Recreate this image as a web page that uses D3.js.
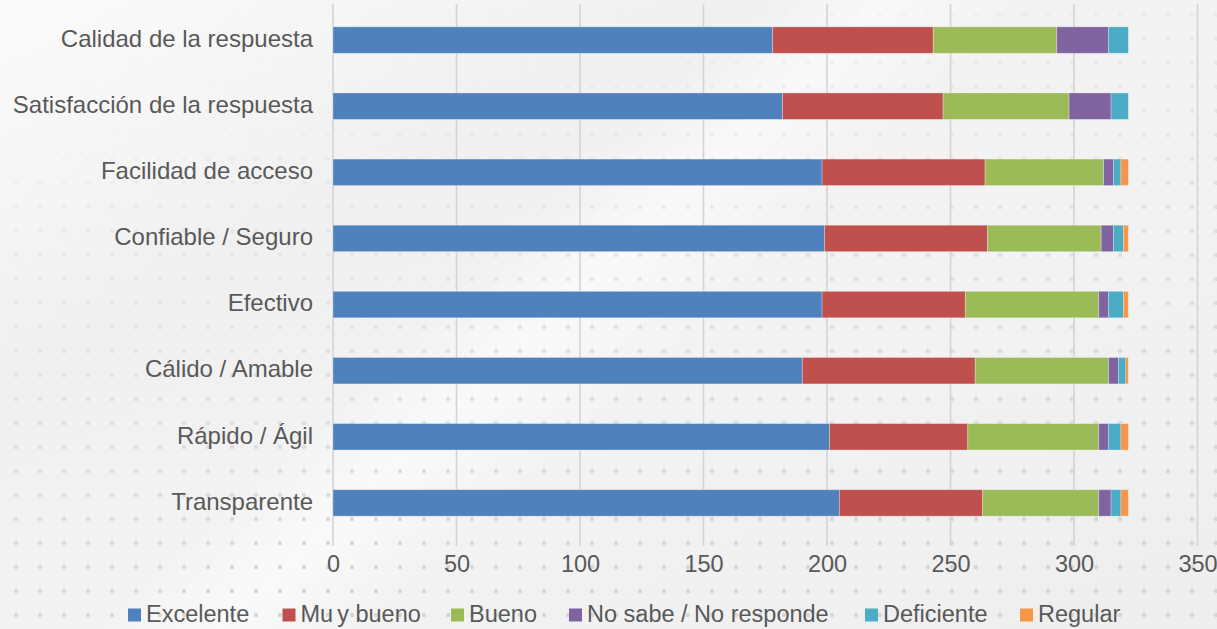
<!DOCTYPE html>
<html>
<head>
<meta charset="utf-8">
<script src="https://cdn.jsdelivr.net/npm/d3@7"></script>
<style>
  html, body { margin: 0; padding: 0; background: #efefef; }
  svg { display: block; font-family: "Liberation Sans", Arial, sans-serif; }
</style>
</head>
<body>
<svg id="chart" width="1217" height="629"></svg>
<script>
// Survey ratings per attribute (number of responses)
const categories = [
  "Calidad de la respuesta",
  "Satisfacción de la respuesta",
  "Facilidad de acceso",
  "Confiable / Seguro",
  "Efectivo",
  "Cálido / Amable",
  "Rápido / Ágil",
  "Transparente"
];
const seriesNames = ["Excelente", "Muy bueno", "Bueno", "No sabe / No responde", "Deficiente", "Regular"];
const excelente  = [178, 182, 198, 199, 198, 190, 201, 205];
const muyBueno   = [ 65,  65,  66,  66,  58,  70,  56,  58];
const bueno      = [ 50,  51,  48,  46,  54,  54,  53,  47];
const noSabe     = [ 21,  17,   4,   5,   4,   4,   4,   5];
const deficiente = [  8,   7,   3,   4,   6,   3,   5,   4];
const regular    = [  0,   0,   3,   2,   2,   1,   3,   3];
const xTicks = [0, 50, 100, 150, 200, 250, 300, 350];
const colors = ["#4F81BD", "#C0504D", "#9BBB59", "#8064A2", "#4BACC6", "#F79646"];

const seriesValues = [excelente, muyBueno, bueno, noSabe, deficiente, regular];
const rows = categories.map((c, i) => {
  const r = { category: c };
  seriesNames.forEach((s, k) => { r[s] = seriesValues[k][i]; });
  return r;
});

const W = 1217, H = 629;
const svg = d3.select("#chart");
const defs = svg.append("defs");

// Background: soft grey with a light diagonal sheen and a faint dot grid
const bg = defs.append("linearGradient").attr("id", "bgGrad")
  .attr("x1", "0").attr("y1", "0").attr("x2", "1").attr("y2", "1");
bg.append("stop").attr("offset", "0%").attr("stop-color", "#fbfbfb");
bg.append("stop").attr("offset", "30%").attr("stop-color", "#f0f0f0");
bg.append("stop").attr("offset", "55%").attr("stop-color", "#f3f3f3");
bg.append("stop").attr("offset", "100%").attr("stop-color", "#eeeeee");
svg.append("rect").attr("width", W).attr("height", H).attr("fill", "url(#bgGrad)");

const streak = defs.append("linearGradient").attr("id", "streak")
  .attr("x1", "0").attr("y1", "0").attr("x2", "1").attr("y2", "0.55");
streak.append("stop").attr("offset", "0%").attr("stop-color", "#ffffff").attr("stop-opacity", 0);
streak.append("stop").attr("offset", "48%").attr("stop-color", "#ffffff").attr("stop-opacity", 0);
streak.append("stop").attr("offset", "56%").attr("stop-color", "#ffffff").attr("stop-opacity", 0.55);
streak.append("stop").attr("offset", "66%").attr("stop-color", "#ffffff").attr("stop-opacity", 0);
streak.append("stop").attr("offset", "100%").attr("stop-color", "#ffffff").attr("stop-opacity", 0);
svg.append("rect").attr("width", W).attr("height", H).attr("fill", "url(#streak)");

const dots = defs.append("pattern").attr("id", "dots")
  .attr("patternUnits", "userSpaceOnUse").attr("width", 24).attr("height", 24)
  .attr("x", 4).attr("y", 3);
dots.append("circle").attr("cx", 12).attr("cy", 12).attr("r", 2.2).attr("fill", "#d2d2d2");

const fade = defs.append("linearGradient").attr("id", "dotFade")
  .attr("x1", "0").attr("y1", "0").attr("x2", "0.35").attr("y2", "1");
fade.append("stop").attr("offset", "0%").attr("stop-color", "#fff").attr("stop-opacity", 0);
fade.append("stop").attr("offset", "25%").attr("stop-color", "#fff").attr("stop-opacity", 0.15);
fade.append("stop").attr("offset", "60%").attr("stop-color", "#fff").attr("stop-opacity", 0.6);
fade.append("stop").attr("offset", "100%").attr("stop-color", "#fff").attr("stop-opacity", 0.9);
const mask = defs.append("mask").attr("id", "dotMask");
mask.append("rect").attr("width", W).attr("height", H).attr("fill", "url(#dotFade)");
svg.append("rect").attr("width", W).attr("height", H)
  .attr("fill", "url(#dots)").attr("mask", "url(#dotMask)");

// Plot geometry
const plotLeft = 333, plotRight = 1197.5, plotTop = 7, plotBottom = 536;

const x = d3.scaleLinear().domain([0, 350]).range([plotLeft, plotRight]);
const y = d3.scaleBand().domain(categories).range([plotTop, plotBottom])
  .paddingInner(0.6).paddingOuter(0.3);

// Vertical gridlines
svg.append("g")
  .selectAll("line").data(xTicks).join("line")
  .attr("x1", d => x(d)).attr("x2", d => x(d))
  .attr("y1", 4).attr("y2", 546)
  .attr("stroke", "#d4d4d4").attr("stroke-width", 1.6);

// Stacked bars
const stack = d3.stack().keys(seriesNames);
const layers = stack(rows);
svg.append("g").selectAll("g").data(layers).join("g")
  .attr("fill", (d, i) => colors[i])
  .selectAll("rect").data(d => d.filter(p => p[1] - p[0] > 0)).join("rect")
  .attr("x", d => x(d[0]))
  .attr("width", d => x(d[1]) - x(d[0]))
  .attr("y", d => y(d.data.category))
  .attr("height", y.bandwidth())
  .attr("stroke", "#ffffff").attr("stroke-opacity", 0.35).attr("stroke-width", 0.8);

// X axis tick labels
const xAxis = d3.axisBottom(x).tickValues(xTicks).tickSize(0).tickPadding(0);
const gx = svg.append("g").attr("transform", `translate(0,${572})`).call(xAxis);
gx.select(".domain").remove();
gx.selectAll("text").attr("font-size", 23.5).attr("fill", "#595959")
  .attr("font-family", "Liberation Sans, Arial, sans-serif").attr("y", 0).attr("dy", 0);

// Category labels
const yAxis = d3.axisLeft(y).tickSize(0).tickPadding(20);
const gy = svg.append("g").attr("transform", `translate(${plotLeft},-1)`).call(yAxis);
gy.select(".domain").remove();
gy.selectAll("text").attr("font-size", 24).attr("fill", "#595959")
  .attr("font-family", "Liberation Sans, Arial, sans-serif");

// Legend
const legendX = [128, 282.5, 451, 569, 865, 1020];
const legend = svg.append("g");
const items = legend.selectAll("g").data(seriesNames).join("g")
  .attr("transform", (d, i) => `translate(${legendX[i]},608.5)`);
items.append("rect").attr("width", 13).attr("height", 13).attr("fill", (d, i) => colors[i]);
const labels = items.append("text").attr("x", 18).attr("y", 13.2)
  .attr("font-size", 23.5).attr("fill", "#595959");
labels.each(function(d) {
  const t = d3.select(this);
  if (d === "Muy bueno") {
    // slightly loose spacing before the "y"
    t.append("tspan").text("Mu");
    t.append("tspan").attr("dx", 4).text("y bueno");
  } else {
    t.text(d);
  }
});
</script>
</body>
</html>
